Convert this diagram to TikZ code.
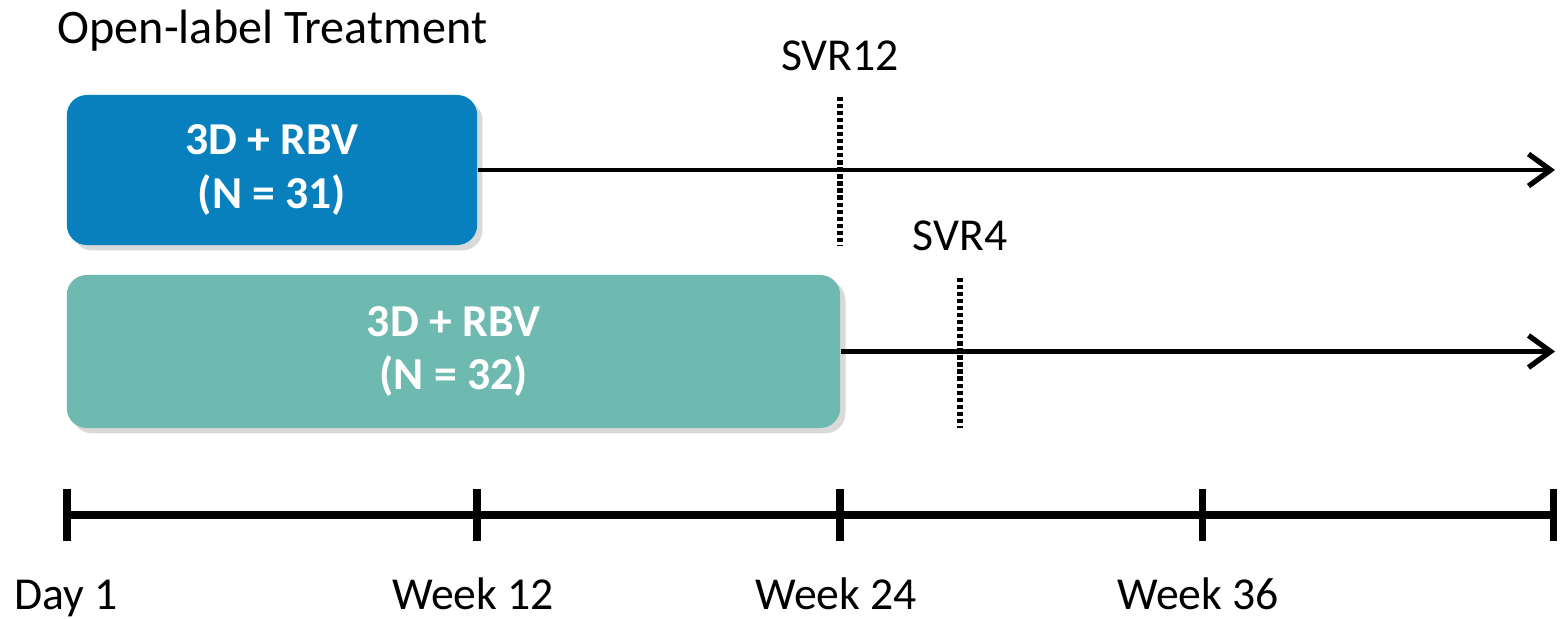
\documentclass[tikz,border=0pt]{standalone}
\usepackage{fontspec}
\setmainfont{Carlito}
\usepackage{xcolor}
\usetikzlibrary{positioning, arrows.meta, shadows}

\definecolor{armblue}{RGB}{8,128,190}
\definecolor{armteal}{RGB}{110,186,176}

\begin{document}
\begin{tikzpicture}[x=0.01cm, y=-0.01cm,
    arm/.style={rounded corners=0.2cm, text=white, align=center, inner sep=0pt,
      font=\bfseries\fontsize{13}{15.2}\selectfont,
      drop shadow={shadow xshift=1.5pt, shadow yshift=-1.5pt, opacity=.3}},
    lbl/.style={font=\fontsize{13}{16}\selectfont, inner sep=0pt},
    follow/.style={line width=1.2pt, -{Straight Barb[length=2.2mm, width=3.2mm, line width=1.5pt]}},
    visit/.style={line width=1.6pt, dash pattern=on 1.2pt off 0.8pt},
    axis/.style={line width=2pt},
    tickmark/.style={line width=2pt}]
       \useasboundingbox (0,0) rectangle (1561,618);

       \node[lbl, font=\fontsize{13.7}{16}\selectfont, anchor=base west] (title) at (57,43) {Open-label Treatment};

       % treatment arms
       \node[arm, fill=armblue, minimum width=4.1cm, minimum height=1.5cm] (A) at (272,170) {3D + RBV\\(N = 31)};
       \node[arm, fill=armteal, minimum width=7.73cm, minimum height=1.53cm] (B) at (453.5,351.5) {3D + RBV\\(N = 32)};

       \coordinate (endA) at (1555,170);
       \coordinate (endB) at (1555,351.5);
       \draw[follow] (A.east) -- (endA);
       \draw[follow] (B.east) -- (endB);

       % follow-up visits
       \coordinate (s12t) at (840,97);
       \coordinate (s12b) at (840,245);
       \coordinate (s4t) at (960,278);
       \coordinate (s4b) at (960,428);
       \draw[visit] (s12t) -- (s12b);
       \draw[visit] (s4t) -- (s4b);
       \node[lbl, anchor=base, above=0.25cm of s12t] (S12) {SVR12};
       \node[lbl, anchor=base, above=0.26cm of s4t] (S4) {SVR4};

       % timeline
       \foreach \x [count=\i from 0] in {67,477,840,1202,1553}
         \coordinate (t\i) at (\x,515);
       \draw[axis] (t0) -- (t4);
       \foreach \i in {0,...,4}
         \draw[tickmark] ([yshift=0.26cm]t\i) -- ([yshift=-0.26cm]t\i);

       \node[lbl, anchor=base] (d1) at (66,609) {Day 1};
       \node[lbl, anchor=base] (w12) at (473,609) {Week 12};
       \node[lbl, anchor=base] (w24) at (836,609) {Week 24};
       \node[lbl, anchor=base] (w36) at (1198,609) {Week 36};
    \end{tikzpicture}
\end{document}
